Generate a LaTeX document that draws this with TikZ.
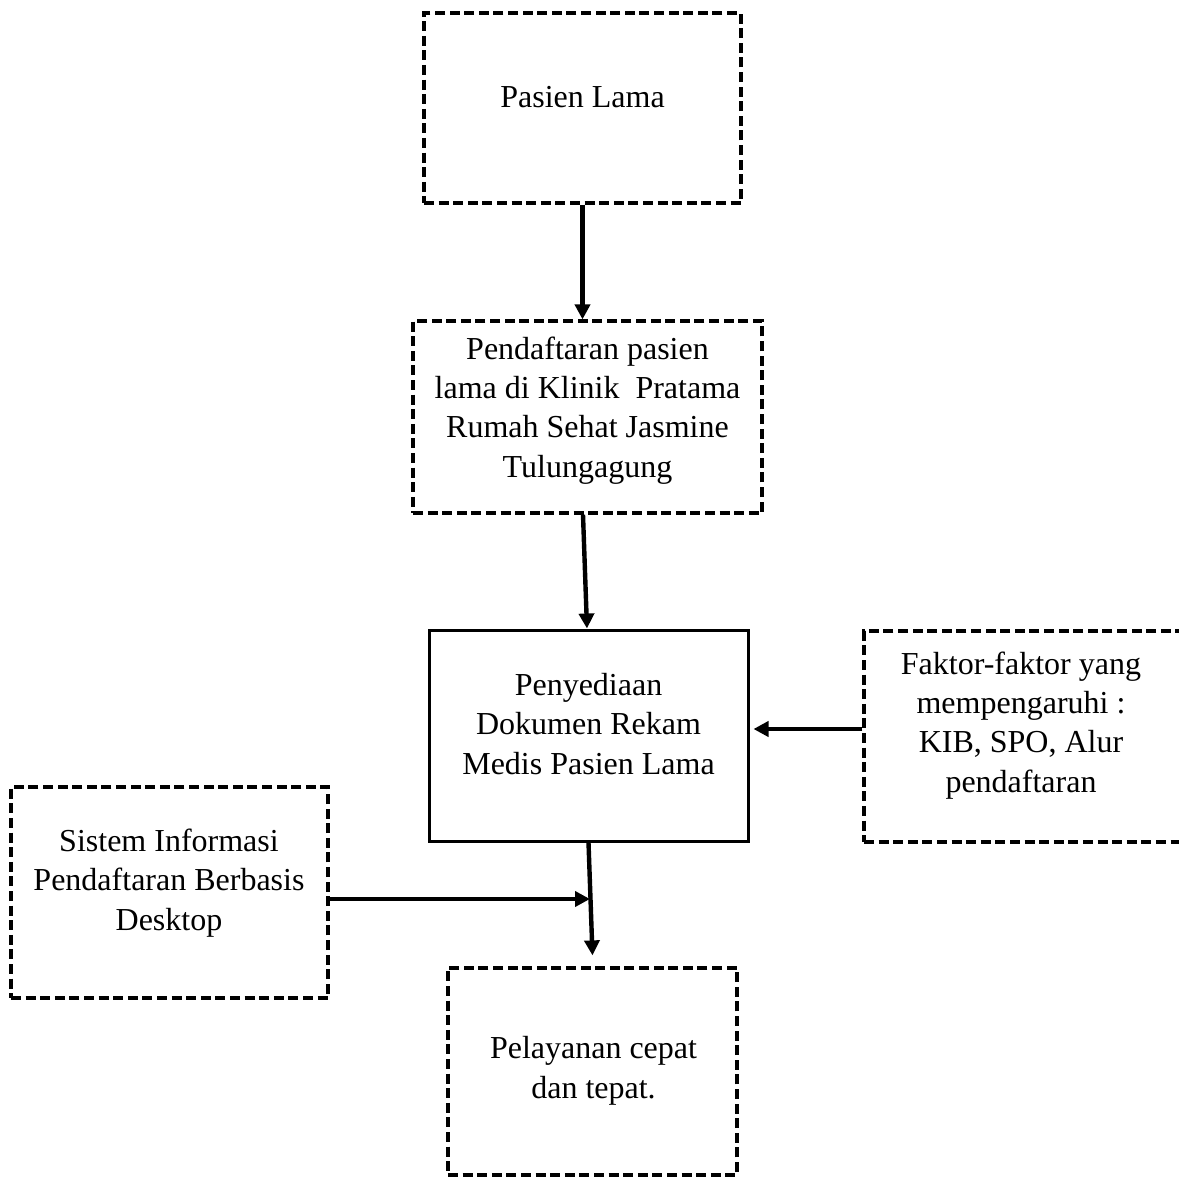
\documentclass[tikz,border=0pt]{standalone}
\usepackage{fontspec}
\setmainfont{Liberation Serif}
\usetikzlibrary{arrows.meta,calc}
\begin{document}
\begin{tikzpicture}[x=0.5pt,y=-0.5pt,
  dbox/.style={draw, line width=1.6pt, dash pattern=on 5pt off 2.3pt, inner sep=0pt},
  sbox/.style={draw, line width=1.5pt, inner sep=0pt},
  txt/.style={align=center, font=\fontsize{16}{19.6}\selectfont, inner sep=0pt, anchor=base},
  arr/.style={line width=2.2pt, -{Triangle[length=7.5pt,width=7.5pt]}}]
\useasboundingbox (0,0) rectangle (1179,1178);
\fill[white] (0,0) rectangle (1179,1178);
% boxes
\node[dbox, minimum width=158.5pt, minimum height=95pt] (B1) at (582.5,108) {};
\node[dbox, minimum width=174.5pt, minimum height=96pt] (B2) at (587.5,417) {};
\node[sbox, minimum width=159.5pt, minimum height=105.5pt] (B3) at (588.5,735.5) {};
\node[dbox, minimum width=159pt, minimum height=105.5pt] (B4) at (1023,736.5) {};
\node[dbox, minimum width=158.5pt, minimum height=105.5pt] (B5) at (169.5,892.5) {};
\node[dbox, minimum width=144.5pt, minimum height=103.5pt] (B6) at (592.5,1071.5) {};
% texts (anchor = baseline of the last line)
\node[txt] (T1) at (582.5,107) {Pasien Lama};
\node[txt] (T2) at (587.5,477) {Pendaftaran pasien\\lama di Klinik\ \ Pratama\\Rumah Sehat Jasmine\\Tulungagung};
\node[txt] (T3) at (588.5,774) {Penyediaan\\Dokumen Rekam\\Medis Pasien Lama};
\node[txt] (T4) at (1021,792) {Faktor-faktor yang\\mempengaruhi :\\KIB, SPO, Alur\\pendaftaran};
\node[txt] (T5) at (169,930) {Sistem Informasi\\Pendaftaran Berbasis\\Desktop};
\node[txt] (T6) at (593.5,1098) {Pelayanan cepat\\dan tepat.};
% connectors
\draw[arr] (B1.south) -- (B1.south |- B2.north);
\draw[arr] ([xshift=-2.25pt]B2.south) -- ([xshift=-0.75pt]B3.north);
\draw[arr] ([yshift=3.75pt]B4.west) -- ([xshift=2pt,yshift=3.25pt]B3.east);
\draw[arr] (B3.south) -- ([yshift=5.5pt]B6.north);
\coordinate (J) at (590,899);
\draw[arr] ([yshift=-3.25pt]B5.east) -- (J);
\end{tikzpicture}
\end{document}
